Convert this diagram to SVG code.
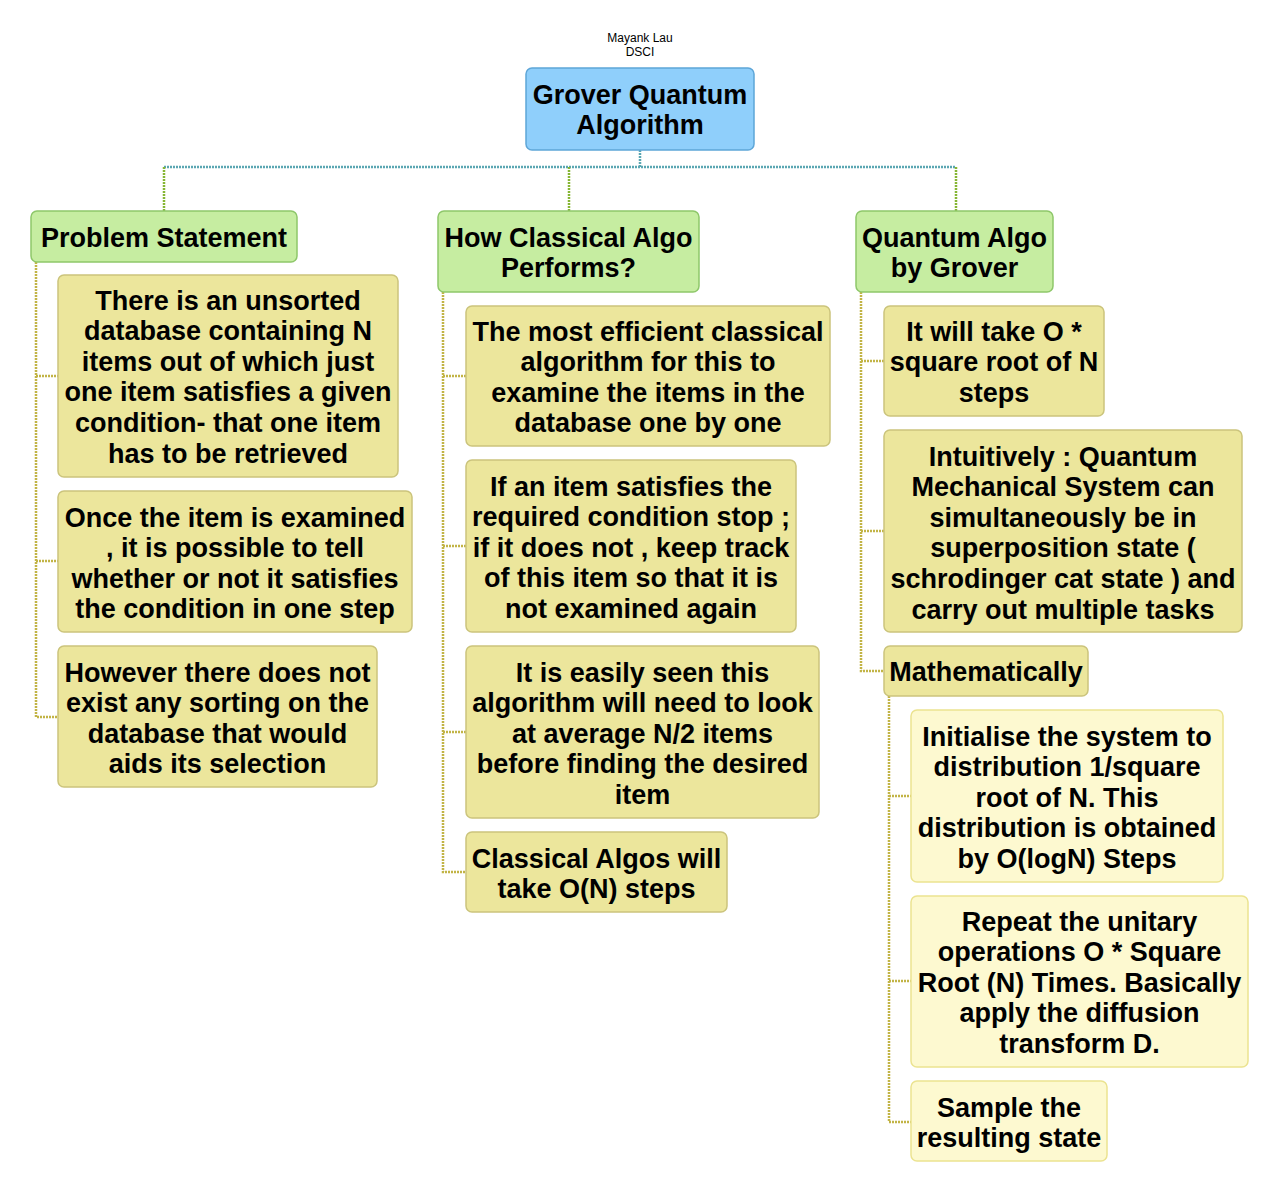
<svg xmlns="http://www.w3.org/2000/svg" width="1280" height="1193" viewBox="0 0 1280 1193">
<style>
text{font-family:"Liberation Sans",Arial,sans-serif;font-weight:bold;font-size:27px;fill:#000;text-anchor:middle}
.hdr{font-weight:normal;font-size:12px}
.root{fill:#8fcffb;stroke:#5ea6d8;stroke-width:1.5}
.grn{fill:#c6eda1;stroke:#8ec76a;stroke-width:1.5}
.yel{fill:#ece69c;stroke:#cbc47c;stroke-width:1.5}
.lyel{fill:#fdf9d0;stroke:#ebe390;stroke-width:1.5}
.c{fill:none;stroke-width:2.5;stroke-dasharray:2 1}
.teal{stroke:#5aa6b2}
.green{stroke:#86b634}
.olive{stroke:#c2b446}
</style>
<rect width="1280" height="1193" fill="#fff"/>
<text class="hdr" x="640" y="42">Mayank Lau</text>
<text class="hdr" x="640" y="56">DSCI</text>
<g id="connectors">
<path class="c teal" d="M640 150V167M164 167H956"/>
<path class="c green" d="M164 167V211M569 167V211M956 167V211"/>
<path class="c olive" d="M36 262V717H58M36 376H58M36 561H58"/>
<path class="c olive" d="M443 292V872H466M443 376H466M443 546H466M443 732H466"/>
<path class="c olive" d="M861 292V671H884M861 361H884M861 531H884"/>
<path class="c olive" d="M889 696V1122H911M889 796H911M889 981H911"/>
</g>
<g id="root"><rect class="root" x="526" y="68" width="228" height="82" rx="6"/>
<text x="640" y="103.5">Grover Quantum</text><text x="640" y="134.1">Algorithm</text></g>
<g id="problem"><rect class="grn" x="31" y="211" width="266" height="51" rx="6"/>
<text x="164" y="246.5">Problem Statement</text></g>
<g id="p1"><rect class="yel" x="58" y="275" width="340" height="202" rx="6"/>
<text x="228" y="309.5">There is an unsorted</text><text x="228" y="340.1">database containing N</text><text x="228" y="370.7">items out of which just</text><text x="228" y="401.3">one item satisfies a given</text><text x="228" y="431.9">condition- that one item</text><text x="228" y="462.5">has to be retrieved</text></g>
<g id="p2"><rect class="yel" x="58" y="491" width="354" height="141" rx="6"/>
<text x="235" y="526.5">Once the item is examined</text><text x="235" y="557.1">, it is possible to tell</text><text x="235" y="587.7">whether or not it satisfies</text><text x="235" y="618.3">the condition in one step</text></g>
<g id="p3"><rect class="yel" x="58" y="646" width="319" height="141" rx="6"/>
<text x="217.5" y="681.5">However there does not</text><text x="217.5" y="712.1">exist any sorting on the</text><text x="217.5" y="742.7">database that would</text><text x="217.5" y="773.3">aids its selection</text></g>
<g id="classical"><rect class="grn" x="438" y="211" width="261" height="81" rx="6"/>
<text x="568.5" y="246.5">How Classical Algo</text><text x="568.5" y="277.1">Performs?</text></g>
<g id="c1"><rect class="yel" x="466" y="306" width="364" height="140" rx="6"/>
<text x="648" y="340.5">The most efficient classical</text><text x="648" y="371.1">algorithm for this to</text><text x="648" y="401.7">examine the items in the</text><text x="648" y="432.3">database one by one</text></g>
<g id="c2"><rect class="yel" x="466" y="460" width="330" height="172" rx="6"/>
<text x="631" y="495.5">If an item satisfies the</text><text x="631" y="526.1">required condition stop ;</text><text x="631" y="556.7">if it does not , keep track</text><text x="631" y="587.3">of this item so that it is</text><text x="631" y="617.9">not examined again</text></g>
<g id="c3"><rect class="yel" x="466" y="646" width="353" height="172" rx="6"/>
<text x="642.5" y="681.5">It is easily seen this</text><text x="642.5" y="712.1">algorithm will need to look</text><text x="642.5" y="742.7">at average N/2 items</text><text x="642.5" y="773.3">before finding the desired</text><text x="642.5" y="803.9">item</text></g>
<g id="c4"><rect class="yel" x="466" y="832" width="261" height="80" rx="6"/>
<text x="596.5" y="867.5">Classical Algos will</text><text x="596.5" y="898.1">take O(N) steps</text></g>
<g id="quantum"><rect class="grn" x="856" y="211" width="197" height="81" rx="6"/>
<text x="954.5" y="246.5">Quantum Algo</text><text x="954.5" y="277.1">by Grover</text></g>
<g id="q1"><rect class="yel" x="884" y="306" width="220" height="110" rx="6"/>
<text x="994" y="340.5">It will take O *</text><text x="994" y="371.1">square root of N</text><text x="994" y="401.7">steps</text></g>
<g id="q2"><rect class="yel" x="884" y="430" width="358" height="202" rx="6"/>
<text x="1063" y="465.5">Intuitively : Quantum</text><text x="1063" y="496.1">Mechanical System can</text><text x="1063" y="526.7">simultaneously be in</text><text x="1063" y="557.3">superposition state (</text><text x="1063" y="587.9">schrodinger cat state ) and</text><text x="1063" y="618.5">carry out multiple tasks</text></g>
<g id="math"><rect class="yel" x="884" y="646" width="204" height="50" rx="6"/>
<text x="986" y="681">Mathematically</text></g>
<g id="m1"><rect class="lyel" x="911" y="710" width="312" height="172" rx="6"/>
<text x="1067" y="745.5">Initialise the system to</text><text x="1067" y="776.1">distribution 1/square</text><text x="1067" y="806.7">root of N. This</text><text x="1067" y="837.3">distribution is obtained</text><text x="1067" y="867.9">by O(logN) Steps</text></g>
<g id="m2"><rect class="lyel" x="911" y="896" width="337" height="171" rx="6"/>
<text x="1079.5" y="930.5">Repeat the unitary</text><text x="1079.5" y="961.1">operations O * Square</text><text x="1079.5" y="991.7">Root (N) Times. Basically</text><text x="1079.5" y="1022.3">apply the diffusion</text><text x="1079.5" y="1052.9">transform D.</text></g>
<g id="m3"><rect class="lyel" x="911" y="1081" width="196" height="80" rx="6"/>
<text x="1009" y="1116.5">Sample the</text><text x="1009" y="1147.1">resulting state</text></g>
</svg>
